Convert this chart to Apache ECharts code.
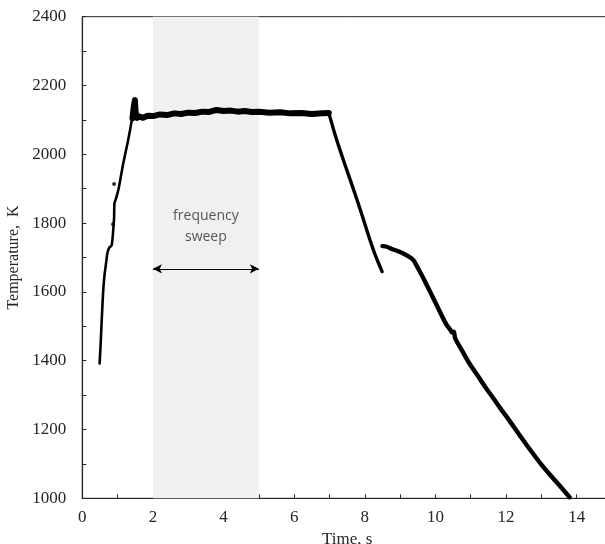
<!DOCTYPE html>
<html>
<head>
<meta charset="utf-8">
<script src="https://cdn.jsdelivr.net/npm/echarts@6/dist/echarts.min.js"></script>
<style>html,body{margin:0;padding:0;background:#fff;overflow:hidden}#c{width:605px;height:544px}</style>
</head>
<body>
<div id="c"></div>
<script>
// ---- data ----
const heating = [[0.49,1392],[0.52,1450],[0.55,1518],[0.59,1600],[0.63,1650],[0.66,1673],[0.71,1712],[0.76,1728],[0.83,1735],[0.86,1760],[0.88,1785],[0.90,1815],[0.91,1858],[0.95,1870],[1.02,1896],[1.10,1940],[1.16,1974],[1.23,2008],[1.30,2042],[1.36,2075],[1.40,2098],[1.44,2112]];
const plateau = [[1.42,2105],[1.46,2140],[1.49,2158],[1.51,2122],[1.55,2106],[1.62,2110],[1.72,2106],[1.85,2112],[2.0,2111],[2.2,2116],[2.4,2114],[2.6,2119],[2.8,2117],[3.0,2121],[3.2,2120],[3.4,2124],[3.6,2123],[3.8,2129],[4.0,2126],[4.2,2127],[4.4,2124],[4.6,2126],[4.8,2123],[5.0,2124],[5.3,2121],[5.6,2122],[5.9,2119],[6.2,2120],[6.5,2117],[6.8,2119],[6.98,2120]];
const cooling1 = [[6.98,2120],[7.05,2095],[7.15,2060],[7.28,2018],[7.45,1966],[7.66,1904],[7.9,1830],[8.13,1756],[8.3,1706],[8.49,1659]];
const cooling2 = [[8.50,1733],[8.6,1732],[8.79,1724],[9.0,1716],[9.26,1702],[9.38,1692],[9.5,1670],[9.68,1635],[10.01,1567],[10.3,1507],[10.42,1490],[10.47,1482],[10.52,1484],[10.56,1465],[10.75,1430],[10.95,1394],[11.2,1356],[11.42,1322],[11.66,1288],[11.85,1260],[12.08,1228],[12.4,1181],[12.74,1133],[13.0,1098],[13.30,1062],[13.55,1033],[13.80,1003]];
const strayDots = [[0.90,1914],[0.87,1797]];
const sweepStart = 2, sweepEnd = 5;
const arrowTemp = 1667;
const sweepLabel = [[3.5,1790]];
const sweepText = 'frequency\nsweep';

const axisColor = '#262626';
const textColor = '#262626';
const serif = 'Liberation Serif';

const chart = echarts.init(document.getElementById('c'), null, {renderer:'canvas'});
const lineSeries = (data, w, smooth) => ({
  type:'line', data, showSymbol:false, symbol:'none', z:3, smooth:smooth || false,
  lineStyle:{color:'#000', width:w, join:'round', cap:'round'}, animation:false, silent:true
});
chart.setOption({
  animation:false,
  backgroundColor:'#fff',
  grid:{left:82.3, right:-7, top:16.7, bottom:45.7, outerBoundsMode:'none', containLabel:false,
        show:true, borderColor:axisColor, borderWidth:1, backgroundColor:'transparent'},
  xAxis:{
    type:'value', min:0, max:15, interval:1,
    name:'Time, s', nameLocation:'middle', nameGap:29,
    nameTextStyle:{fontFamily:serif, fontSize:17, color:textColor},
    axisLine:{show:true, onZero:false, lineStyle:{color:axisColor, width:1.2}},
    axisTick:{show:true, inside:true, length:4, lineStyle:{color:axisColor}},
    axisLabel:{margin:11, fontFamily:serif, fontSize:17, color:textColor, formatter:v => (v % 2 === 0 ? String(v) : '')},
    splitLine:{show:false}
  },
  yAxis:{
    type:'value', min:1000, max:2400, interval:100,
    name:'Temperature,  K', nameLocation:'middle', nameGap:55, nameRotate:90,
    nameTextStyle:{fontFamily:serif, fontSize:16, color:textColor},
    axisLine:{show:true, lineStyle:{color:axisColor, width:1.2}},
    axisTick:{show:true, inside:true, length:4, lineStyle:{color:axisColor}},
    axisLabel:{margin:16, fontFamily:serif, fontSize:17, color:textColor, formatter:v => (v % 200 === 0 ? String(v) : '')},
    splitLine:{show:false}
  },
  series:[
    {
      type:'line', data:[], z:-1, silent:true,
      markArea:{silent:true, itemStyle:{color:'#f0f0f0'}, data:[[{xAxis:sweepStart, yAxis:1000},{xAxis:sweepEnd, yAxis:2400}]]}
    },
    {
      type:'line', data:[], z:4, silent:true,
      markLine:{silent:true, symbol:['arrow','arrow'], symbolSize:[7,9], label:{show:false},
        lineStyle:{color:'#000', width:1, type:'solid'},
        data:[[{coord:[sweepStart, arrowTemp]},{coord:[sweepEnd, arrowTemp]}]]}
    },
    {
      type:'scatter', data:sweepLabel, symbolSize:0, z:4, silent:true,
      label:{show:true, position:'inside', formatter:sweepText, fontFamily:'Open Sans', fontSize:14, lineHeight:21, color:'#2e2e2e', align:'center', verticalAlign:'middle'}
    },
    lineSeries(heating, 2.6, 0.2),
    lineSeries(plateau, 6),
    lineSeries(cooling1, 3.4, 0.3),
    lineSeries(cooling2, 4.4, 0.3),
    {type:'scatter', data:strayDots, symbolSize:4, itemStyle:{color:'#000'}, z:3, silent:true}
  ]
});
</script>
</body>
</html>
